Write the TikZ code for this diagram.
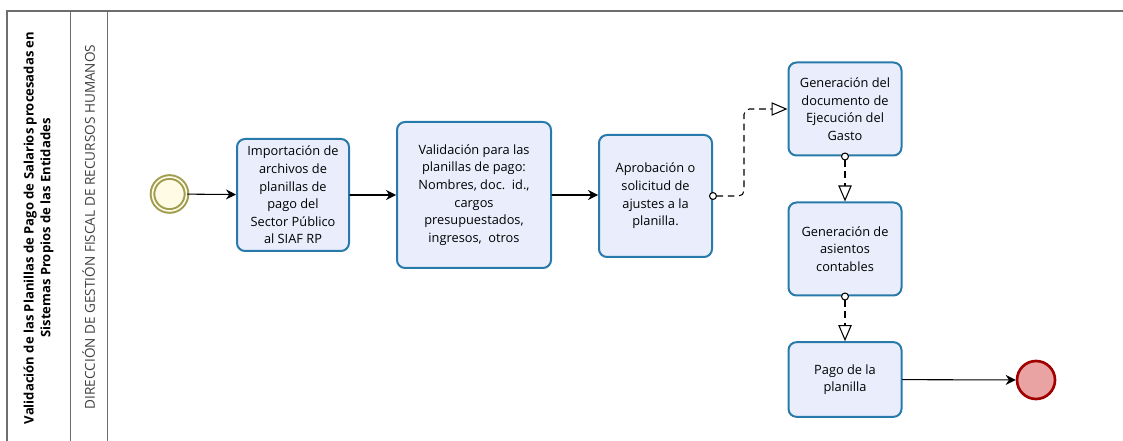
\documentclass[tikz,border=0pt]{standalone}
\usepackage{fontspec}
\setmainfont{Open Sans}
\usepackage{tikz}
\usetikzlibrary{arrows.meta}
\usepackage{xcolor}
\definecolor{taskfill}{RGB}{234,238,252}
\definecolor{taskline}{RGB}{40,122,170}
\definecolor{startline}{RGB}{160,156,80}
\definecolor{startfill}{RGB}{255,251,228}
\definecolor{endline}{RGB}{160,0,0}
\definecolor{endfill}{RGB}{234,163,163}
\definecolor{laneline}{RGB}{110,110,110}

\begin{document}
\begin{tikzpicture}[x=0.75pt,y=-0.75pt,font=\fontsize{9.6}{13.2}\selectfont,line cap=round,
  task/.style={draw=taskline,fill=taskfill,line width=1.5pt,rounded corners=6pt,align=center,inner sep=2pt},
  flow/.style={-{Stealth[length=7.5pt,width=7.5pt]},line width=0.8pt},
  msg/.style={line width=0.8pt,line cap=butt,dash pattern=on 5pt off 3.5pt,
    {Circle[fill=white,length=6pt]}-{Triangle[fill=white,length=12pt,width=10pt]}}]
\useasboundingbox (0,0) rectangle (1123,441);
% pool and lane
\draw[laneline,line width=1pt] (1123,11) -- (7,11) -- (7,441);
\draw[laneline] (70,11) -- (70,441) (107,11) -- (107,441);
\node[rotate=90,align=center,font=\bfseries\fontsize{9.8}{12.5}\selectfont] (pool) at (38.5,228)
  {Validación de las Planillas de Pago de Salarios procesadas en\\Sistemas Propios de las Entidades};
\node[rotate=90,text=black!75,font=\fontsize{10.2}{12}\selectfont] (lane) at (88.5,227) {DIRECCIÓN DE GESTIÓN FISCAL DE RECURSOS HUMANOS};
% events
\node[circle,draw=startline,fill=startfill,line width=1.5pt,double=startfill,double distance=1.2pt,
  minimum size=25.5pt,inner sep=0pt] (start) at (169.5,194) {};
\node[circle,draw=endline,fill=endfill,line width=2pt,minimum size=28.5pt,inner sep=0pt] (end) at (1036,380) {};
% tasks
\node[task,minimum width=84pt,minimum height=84pt] (imp) at (293,195)
  {Importación de\\archivos de\\planillas de\\pago del\\Sector Público\\al SIAF RP};
\node[task,minimum width=115.5pt,minimum height=109.5pt] (val) at (474,195)
  {Validación para las\\planillas de pago:\\Nombres, doc.\ \ id.,\\cargos\\presupuestados,\\ingresos,\ \ otros};
\node[task,minimum width=84.75pt,minimum height=91.5pt] (apr) at (655.5,196)
  {Aprobación o\\solicitud de\\ajustes a la\\planilla.};
\node[task,minimum width=84.75pt,minimum height=69.75pt] (doc) at (845,109)
  {Generación del\\documento de\\Ejecución del\\Gasto};
\node[task,minimum width=84.75pt,minimum height=69.75pt] (asi) at (845,249)
  {Generación de\\asientos\\contables};
\node[task,minimum width=84.75pt,minimum height=56pt] (pago) at (845,379.5)
  {Pago de la\\planilla};
% flows
\draw[flow] (start) -- (imp);
\draw[flow] (imp.east) -- (imp.east -| val.west);
\draw[flow] (val) -- (apr.west |- val);
\draw[flow] (pago) -- (end);
\draw[msg,shorten <=-3pt,rounded corners=4pt] (apr.east) -- ++(31,0) |- (doc.west);
\draw[msg,shorten <=-3pt] (doc) -- (asi);
\draw[msg,shorten <=-3pt] (asi) -- (pago);
\end{tikzpicture}
\end{document}
